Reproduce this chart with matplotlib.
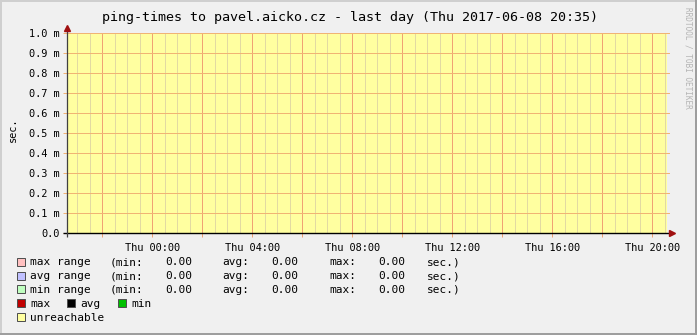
import matplotlib
matplotlib.use("Agg")
from matplotlib import pyplot as plt
import matplotlib.dates as mdates
from matplotlib.patches import Rectangle
from matplotlib.lines import Line2D
from datetime import datetime, timedelta

plt.rcParams["font.family"] = ["DejaVu Sans Mono"]

# data
title = "ping-times to pavel.aicko.cz - last day (Thu 2017-06-08 20:35)"
period_start = datetime(2017, 6, 7, 20, 35)
period_end = datetime(2017, 6, 8, 20, 35)
unreachable_from = [period_start]
unreachable_to = [period_end]
y_max = 0.001
y_ticks = [0.0, 0.0001, 0.0002, 0.0003, 0.0004, 0.0005, 0.0006, 0.0007, 0.0008, 0.0009, 0.001]
y_tick_labels = ["0.0", "0.1 m", "0.2 m", "0.3 m", "0.4 m", "0.5 m",
                 "0.6 m", "0.7 m", "0.8 m", "0.9 m", "1.0 m"]
day_names = ["Mon", "Tue", "Wed", "Thu", "Fri", "Sat", "Sun"]

range_names = ["max range", "avg range", "min range"]
range_colors = ["#ffc0c0", "#c0c0ff", "#c0ffc0"]
stat_min = [0.00, 0.00, 0.00]
stat_avg = [0.00, 0.00, 0.00]
stat_max = [0.00, 0.00, 0.00]
line_names = ["max", "avg", "min"]
line_colors = ["#c00000", "#000000", "#00c000"]

# colours
BG = "#f0f0f0"
YELLOW = "#ffffa0"
MGRID_V = "#f0a274"
MGRID_H = "#f0b474"
GRID = "#e2daa2"
W, H = 697, 335


def px(x, y):
    return x / W, (H - y) / H


fig = plt.figure(figsize=(W / 100, H / 100), dpi=100, facecolor=BG)

# frame shading
fig.add_artist(Line2D([0, 1], [1 - 1 / H, 1 - 1 / H], color="#cfcfcf", lw=1.44))
fig.add_artist(Line2D([1 / W, 1 / W], [0, 1], color="#cfcfcf", lw=1.44))
fig.add_artist(Line2D([0, 1], [1 / H, 1 / H], color="#9e9e9e", lw=1.44))
fig.add_artist(Line2D([1 - 1 / W, 1 - 1 / W], [0, 1], color="#9e9e9e", lw=1.44))

x0, y0 = px(67, 233)
ax = fig.add_axes([x0, y0, 603 / W, 200 / H])
ax.set_facecolor("none")
for s in ax.spines.values():
    s.set_visible(False)

for a, b in zip(unreachable_from, unreachable_to):
    ax.fill_between([a, b], 0, y_max, color=YELLOW, lw=0, zorder=1)

ax.set_xlim(period_start, period_start + timedelta(days=603 / 600))
ax.set_ylim(0, y_max)


def fmt(x, pos):
    d = mdates.num2date(x)
    if d.hour % 4 == 0 and d.minute == 0:
        return day_names[d.weekday()] + d.strftime(" %H:%M")
    return ""


ax.xaxis.set_major_locator(mdates.HourLocator(byhour=range(0, 24, 2)))
ax.xaxis.set_minor_locator(mdates.MinuteLocator(byminute=[0, 30]))
ax.xaxis.set_major_formatter(matplotlib.ticker.FuncFormatter(fmt))
ax.set_yticks(y_ticks, y_tick_labels)

ax.set_axisbelow(False)
ax.grid(which="major", axis="x", color=MGRID_V, lw=0.72, zorder=2)
ax.grid(which="major", axis="y", color=MGRID_H, lw=0.72, zorder=2)
ax.grid(which="minor", axis="x", color=GRID, lw=0.72, zorder=1.5)
ax.tick_params(axis="x", which="major", length=3, width=0.72, color=MGRID_V,
               pad=4, labelsize=7.4)
ax.tick_params(axis="x", which="minor", length=0)
ax.tick_params(axis="y", which="major", length=3, width=0.72, color=MGRID_H,
               pad=2.5, labelsize=7.4)

# axes lines and arrows
ax.plot([-4 / 603, 1.003], [0, 0], transform=ax.transAxes, color="black",
        lw=1.0, clip_on=False, zorder=5, solid_capstyle="butt")
ax.plot([0, 0], [-4 / 200, 1.02], transform=ax.transAxes, color="#404040",
        lw=0.9, clip_on=False, zorder=5, solid_capstyle="butt")
ax.plot([1.004], [0], marker=">", ms=4, color="#a01010", transform=ax.transAxes,
        clip_on=False, zorder=6)
ax.plot([0], [1.025], marker="^", ms=4, color="#a01010", transform=ax.transAxes,
        clip_on=False, zorder=6)

# title and labels
fig.text(*px(350, 21.3), title, ha="center", va="baseline", fontsize=9.6)
fig.text(*px(13, 130), "sec.", ha="center", va="center", rotation=90, fontsize=7.4)
fig.text(*px(688, 7), "RRDTOOL / TOBI OETIKER", ha="center", va="top",
         rotation=270, fontsize=5.6, color="#b4b4b4")

# legend
row_y = [261.7, 275.5, 289.3, 303.3, 317.0]


def box(x, yc, color):
    fx, fy = px(x, yc + 4)
    fig.add_artist(Rectangle((fx, fy), 8 / W, 8 / H, facecolor=color,
                             edgecolor="#505050", lw=0.72))


LS = 8.0
for i, name in enumerate(range_names):
    yc = row_y[i]
    yb = yc + 3.6
    box(16.5, yc, range_colors[i])
    fig.text(*px(30, yb), name, fontsize=LS, va="baseline")
    fig.text(*px(109.5, yb), "(min:", fontsize=LS, va="baseline")
    fig.text(*px(165, yb), "%.2f" % stat_min[i], fontsize=LS, va="baseline")
    fig.text(*px(222.5, yb), "avg:", fontsize=LS, va="baseline")
    fig.text(*px(271.5, yb), "%.2f" % stat_avg[i], fontsize=LS, va="baseline")
    fig.text(*px(329.5, yb), "max:", fontsize=LS, va="baseline")
    fig.text(*px(378.5, yb), "%.2f" % stat_max[i], fontsize=LS, va="baseline")
    fig.text(*px(427, yb), "sec.)", fontsize=LS, va="baseline")

line_x = [16.5, 67, 118]
for i, name in enumerate(line_names):
    box(line_x[i], row_y[3], line_colors[i])
    fig.text(*px(line_x[i] + 13.5, row_y[3] + 3.6), name, fontsize=LS, va="baseline")

box(16.5, row_y[4], YELLOW)
fig.text(*px(30, row_y[4] + 3.6), "unreachable", fontsize=LS, va="baseline")

fig.savefig("out.png", dpi=100, facecolor=BG)
